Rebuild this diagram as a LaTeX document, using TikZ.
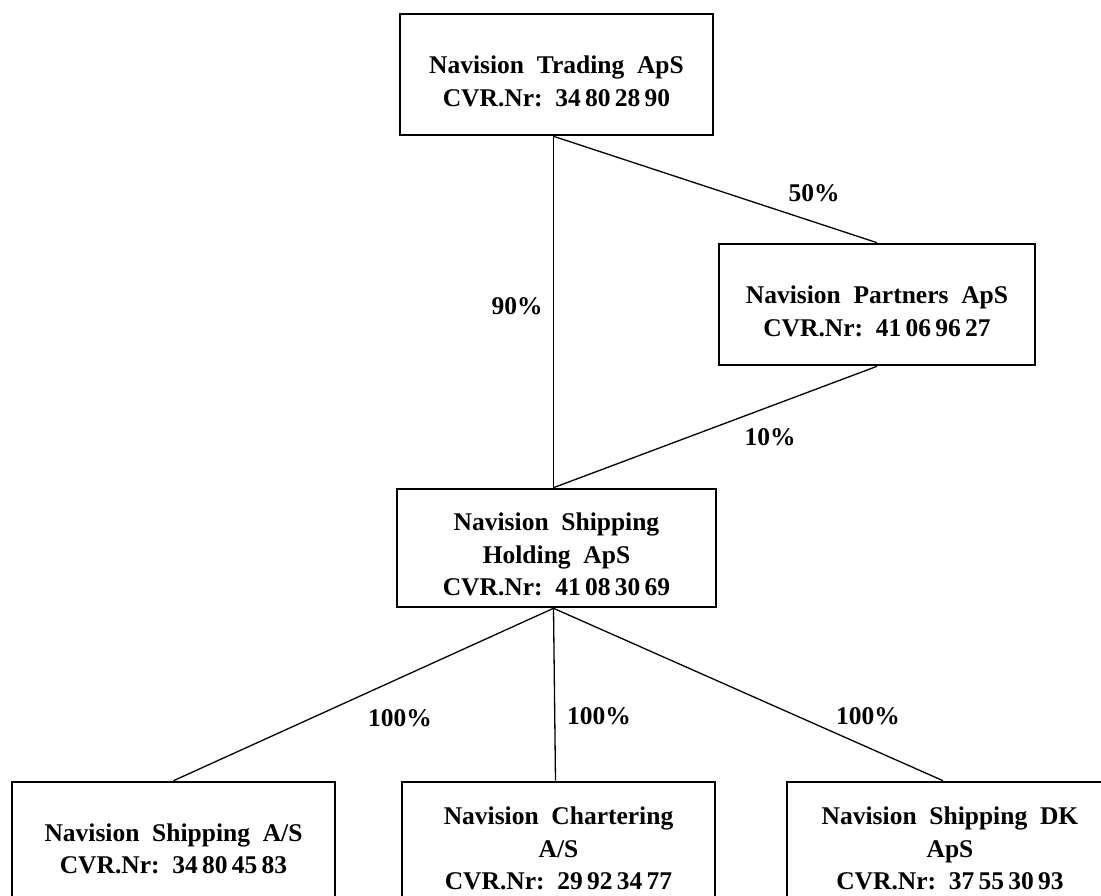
\documentclass[tikz,border=0pt]{standalone}
\usepackage{fontspec}
\setmainfont{Liberation Serif}
\newcommand{\dropstrut}{\rule{0pt}{31pt}}
\begin{document}
\begin{tikzpicture}[x=1pt,y=-1pt,
  company/.style={draw=black,line width=2.6pt,rectangle,inner sep=0pt,align=center,
    font=\fontsize{25.5}{32.5}\selectfont\bfseries},
  link/.style={draw=black,line width=1.3pt},
  pct/.style={inner sep=0pt,font=\fontsize{25.5}{30}\selectfont\bfseries}]
\useasboundingbox (0,0) rectangle (1101,896);
\clip (0,0) rectangle (1101,896);
\fill[white] (0,0) rectangle (1101,896);
\node[company,minimum width=313pt,minimum height=121pt] (top) at (556.5,74.5)
  {\dropstrut Navision\ \ Trading\ \ ApS\\CVR.Nr:\ \ 34\,80\,28\,90};
\node[company,minimum width=316pt,minimum height=121pt] (partners) at (877,304.5)
  {\dropstrut Navision\ \ Partners\ \ ApS\\CVR.Nr:\ \ 41\,06\,96\,27};
\node[company,minimum width=319pt,minimum height=118pt] (holding) at (556.5,548)
  {\dropstrut Navision\ \ Shipping\\Holding\ \ ApS\\CVR.Nr:\ \ 41\,08\,30\,69};
\node[company,minimum width=323pt,minimum height=120pt] (as) at (173.5,842)
  {\dropstrut Navision\ \ Shipping\ \ A/S\\CVR.Nr:\ \ 34\,80\,45\,83};
\node[company,minimum width=313pt,minimum height=120pt] (chart) at (558.5,842)
  {\dropstrut Navision\ \ Chartering\\A/S\\CVR.Nr:\ \ 29\,92\,34\,77};
\node[company,minimum width=326pt,minimum height=120pt] (dk) at (950,842)
  {\dropstrut Navision\ \ Shipping\ \ DK\\ApS\\CVR.Nr:\ \ 37\,55\,30\,93};
\draw[link] ([xshift=-3pt]top.south) -- ([xshift=-3pt]holding.north);
\draw[link] ([xshift=-3pt]top.south) -- (partners.north);
\draw[link] (partners.south) -- ([xshift=-3pt]holding.north);
\draw[link] ([xshift=-3pt]holding.south) -- (as.north);
\draw[link] ([xshift=-3pt]holding.south) -- ([xshift=-3pt]chart.north);
\draw[link] ([xshift=-3pt]holding.south) -- ([xshift=-7pt]dk.north);
\node[pct] (p50) at (814,193) {50\%};
\node[pct] (p90) at (517,306) {90\%};
\node[pct] (p10) at (770,437) {10\%};
\node[pct] (p100a) at (400,718) {100\%};
\node[pct] (p100b) at (599,716) {100\%};
\node[pct] (p100c) at (868,716) {100\%};
\end{tikzpicture}
\end{document}
